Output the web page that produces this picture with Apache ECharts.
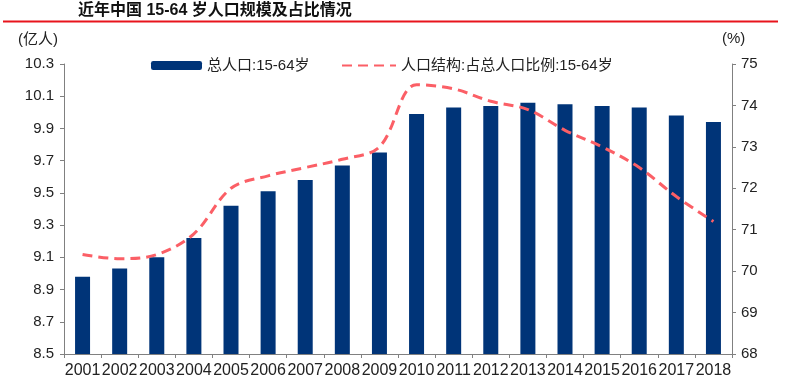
<!DOCTYPE html>
<html>
<head>
<meta charset="utf-8">
<script src="https://cdn.jsdelivr.net/npm/echarts@6/dist/echarts.min.js"></script>
<style>
html,body{margin:0;padding:0;background:#fff;}
#main{width:800px;height:385px;}
</style>
</head>
<body>
<div id="main"></div>
<script>
var years = ['2001','2002','2003','2004','2005','2006','2007','2008','2009','2010','2011','2012','2013','2014','2015','2016','2017','2018'];
var population = [8.98, 9.03, 9.10, 9.22, 9.42, 9.51, 9.58, 9.67, 9.75, 9.99, 10.03, 10.04, 10.06, 10.05, 10.04, 10.03, 9.98, 9.94];
var share = [70.4, 70.3, 70.4, 70.9, 72.0, 72.3, 72.5, 72.7, 73.0, 74.5, 74.4, 74.1, 73.9, 73.4, 73.0, 72.5, 71.8, 71.2];
var leftTicks = [8.5, 8.7, 8.9, 9.1, 9.3, 9.5, 9.7, 9.9, 10.1, 10.3];
var rightTicks = [68, 69, 70, 71, 72, 73, 74, 75];
var barName = '总人口:15-64岁';
var lineName = '人口结构:占总人口比例:15-64岁';

var FONT = '"Liberation Sans", Arial, "Noto Sans CJK SC", sans-serif';
var axisColor = '#808080';
var chart = echarts.init(document.getElementById('main'), null, {renderer: 'canvas'});
chart.setOption({
  animation: false,
  backgroundColor: '#fff',
  textStyle: {fontFamily: FONT},
  graphic: [
    {type: 'text', left: 78, top: 3, style: {text: '近年中国 15-64 岁人口规模及占比情况', font: 'bold 16px "Liberation Sans", "Noto Sans CJK SC", sans-serif', fill: '#111'}},
    {type: 'line', shape: {x1: 3, y1: 21.5, x2: 778, y2: 21.5}, style: {stroke: '#e8141c', lineWidth: 2}},
    {type: 'text', left: 18, top: 32, style: {text: '(亿人)', font: '15px "Liberation Sans", "Noto Sans CJK SC", sans-serif', fill: '#222'}},
    {type: 'text', left: 722, top: 31, style: {text: '(%)', font: '15px "Liberation Sans", "Noto Sans CJK SC", sans-serif', fill: '#222'}}
  ],
  legend: [
    {data: [barName], left: 146, top: 53, itemWidth: 51, itemHeight: 9,
     textStyle: {fontSize: 15, color: '#222', fontFamily: FONT}},
    {data: [lineName], left: 336, top: 53, itemWidth: 54, itemHeight: 9,
     itemStyle: {opacity: 0},
     textStyle: {fontSize: 15, color: '#222', fontFamily: FONT}}
  ],
  grid: {left: 64, right: 68, top: 64, bottom: 31, containLabel: false},
  xAxis: {
    type: 'category', data: years,
    axisLine: {lineStyle: {color: axisColor, width: 1}},
    axisTick: {show: true, alignWithLabel: false, length: 4, lineStyle: {color: axisColor}},
    axisLabel: {interval: 0, fontSize: 16, color: '#222', margin: 9, fontFamily: FONT}
  },
  yAxis: [
    {type: 'value', min: 8.5, max: 10.3, position: 'left',
     splitLine: {show: false},
     axisLine: {show: true, lineStyle: {color: axisColor}},
     axisTick: {show: true, length: 4, lineStyle: {color: axisColor}, customValues: leftTicks},
     axisLabel: {fontSize: 15, color: '#222', margin: 10, fontFamily: FONT, customValues: leftTicks,
       formatter: function (v) { return Number(v).toFixed(1); }}},
    {type: 'value', min: 68, max: 75, interval: 1, position: 'right',
     splitLine: {show: false},
     axisLine: {show: true, lineStyle: {color: axisColor}},
     axisTick: {show: true, length: 4, lineStyle: {color: axisColor}},
     axisLabel: {fontSize: 15, color: '#222', margin: 9, fontFamily: FONT}}
  ],
  series: [
    {name: barName, type: 'bar', data: population, yAxisIndex: 0, barWidth: 15,
     itemStyle: {color: '#003478'}},
    {name: lineName, type: 'line', data: share, yAxisIndex: 1, smooth: 0.35, symbol: 'none',
     lineStyle: {color: '#fb5f66', width: 3, type: [10, 6]},
     itemStyle: {color: '#fb5f66'}}
  ]
});
</script>
</body>
</html>
